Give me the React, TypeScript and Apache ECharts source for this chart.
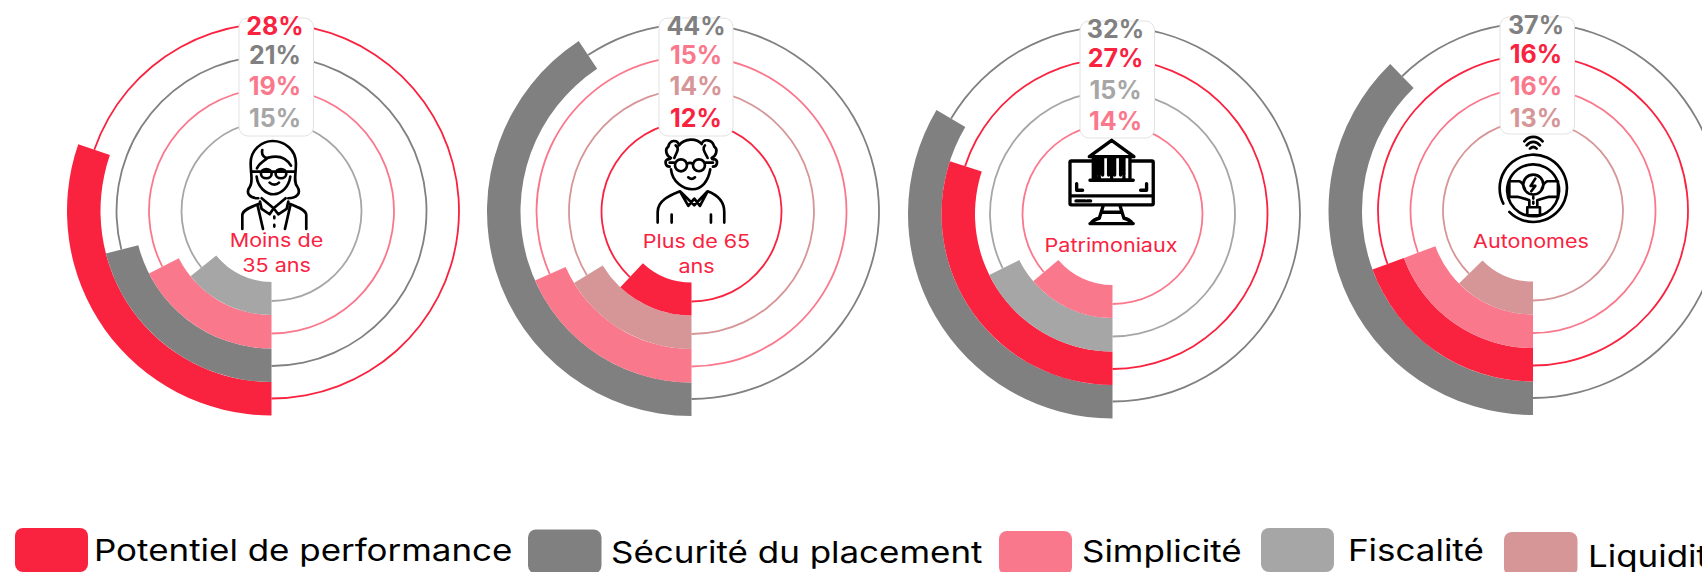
import React, { useEffect, useRef } from "react";
import * as echarts from "echarts";

// ---- data -------------------------------------------------------------
const metricNames = ["Potentiel de performance", "Sécurité du placement", "Simplicité", "Fiscalité", "Liquidité"];

const panelTitles = [["Moins de", "35 ans"], ["Plus de 65", "ans"], ["Patrimoniaux"], ["Autonomes"]];

// order of the metrics from the outer ring to the inner ring
const moinsMetrics = [0, 1, 2, 3];
const plusMetrics = [1, 2, 4, 0];
const patriMetrics = [1, 0, 3, 2];
const autoMetrics = [1, 0, 2, 4];

// percentages printed on the chart
const moinsLabels = [28, 21, 19, 15];
const plusLabels = [44, 15, 14, 12];
const patriLabels = [32, 27, 15, 14];
const autoLabels = [37, 16, 16, 13];

// share of the circle each arc visibly sweeps in the picture
const moinsArcs = [30.3, 21, 17.5, 14.2];
const plusArcs = [40.7, 18.4, 16.3, 12];
const patriArcs = [33.5, 30, 17.7, 13.8];
const autoArcs = [37.7, 19.4, 19.4, 12.6];

// ---- styles and layout ------------------------------------------------
const COLORS = ["#F9223F", "#808080", "#FA788C", "#A6A6A6", "#D69698"];
const FONT = "Inter";
const WIDEN = 1.165;
const RING_EDGES = [204.5, 171, 137.5, 104, 71];
const RING_LINES = [187.5, 155, 122.5, 90];

const panels = [
  { cx: 271.5, cy: 211, metrics: moinsMetrics, labels: moinsLabels, arcs: moinsArcs, box: [239, 18, 74.5, 118], textX: 275, textY: [26, 54.5, 86, 118], titleX: 276.5, titleY: [241, 266] },
  { cx: 691.5, cy: 211.5, metrics: plusMetrics, labels: plusLabels, arcs: plusArcs, box: [659, 18, 74, 118], textX: 696, textY: [26, 54.5, 86, 118], titleX: 696.5, titleY: [241.5, 266.5] },
  { cx: 1112.5, cy: 214, metrics: patriMetrics, labels: patriLabels, arcs: patriArcs, box: [1080, 21, 74.5, 117], textX: 1115.5, textY: [28.5, 57.5, 89.5, 120.5], titleX: 1111, titleY: [245.5] },
  { cx: 1533, cy: 210.5, metrics: autoMetrics, labels: autoLabels, arcs: autoArcs, box: [1500, 17, 74.5, 117], textX: 1536, textY: [24.5, 53.5, 85.5, 117.5], titleX: 1531, titleY: [241.5] },
];

const legendLayout = [
  { box: [15, 528, 73, 44], textX: 94, textY: 550 },
  { box: [528, 529.5, 73.5, 44], textX: 611, textY: 552 },
  { box: [999, 531, 73, 44], textX: 1082, textY: 551 },
  { box: [1261, 528, 73, 44], textX: 1348, textY: 550 },
  { box: [1504, 532, 73.5, 44], textX: 1588, textY: 556 },
];

// icons, drawn in a 3x local space
const womanIcon =
  "M70 190C45 190 30 175 45 155C55 140 47 120 47 85C47 45 80 18 113 18C150 18 183 45 183 85C183 120 175 140 187 155C200 175 185 190 160 190" +
  "M82 45C78 60 90 72 100 68C122 62 150 62 168 92M66 100C72 85 85 78 100 68" +
  "M65 125C68 155 92 178 116 178C140 178 162 155 166 125" +
  "M52 110H182M78 116A16 14 0 1 0 110 116A16 14 0 1 0 78 116M122 116A16 14 0 1 0 154 116A16 14 0 1 0 122 116" +
  "M104 143C112 151 124 151 132 143" +
  "M80 190L116 220L152 190M75 200L80 222L104 238L116 220L130 238L155 222L160 200" +
  "M22 282V240C22 225 50 215 76 205M214 282V240C214 225 186 215 160 205M68 212L84 282M166 212L150 282" +
  "M118 245V250M118 270V275";

const manIcon =
  "M72 40C68 22 44 22 40 44C28 52 34 72 48 78C45 84 40 82 38 82C28 86 30 104 44 104" +
  "M140 36C145 20 172 20 178 44C190 52 184 72 170 78C172 84 176 82 180 82C190 86 188 104 174 104" +
  "M72 40C90 18 125 18 140 36M62 40C75 50 65 60 58 78M150 40C140 50 150 62 158 78" +
  "M60 100A18 18 0 1 0 96 100A18 18 0 1 0 60 100M114 100A18 18 0 1 0 150 100A18 18 0 1 0 114 100M96 96C102 92 108 92 114 96M44 92H60M150 92H174" +
  "M48 112C52 150 85 172 112 172C140 172 160 148 166 112M100 136C106 142 114 142 120 136" +
  "M8 272V240C8 205 45 190 75 178L118 220L158 178C190 190 208 208 208 240V272M75 178L100 222L118 200L135 222L158 178" +
  "M50 248V272M168 248V272";

const bankIcon =
  "M34 78H276A4 4 0 0 1 280 82V206A4 4 0 0 1 276 210H34A4 4 0 0 1 30 206V82A4 4 0 0 1 34 78Z" +
  "M30 183H280M48 198H62M66 198H76M82 198H92M50 146V166H68M260 146V166H242" +
  "M130 212L118 250M180 212L192 250M126 232H184M118 250C108 252 98 258 92 266M192 250C202 252 212 258 218 266M90 266H220";

const bankTop =
  "M88 65L155 16L222 65ZM100 65V135H210V65ZM90 136H220M118 68V120M118 125V134M128 68V120M155 68V120M155 125V134M146 68V120M164 68V120M182 68V120M192 68V120M192 125V134M108 68V134";

const wheelIcon =
  "M58 240A101 101 0 1 0 40 215M130 97A78 78 0 1 1 129 97Z" +
  "M160 158A30 30 0 1 1 100 158A30 30 0 1 1 160 158Z" +
  "M136 140L122 162H136L124 178" +
  "M58 148H88C96 150 100 158 105 172M58 195H85C96 198 105 200 118 205V225M204 148H172C164 150 160 158 155 172M204 195H175C164 198 155 200 142 205V225M58 148V195M204 148V195" +
  "M112 226H150V250H112ZM130 195V200M130 210V215" +
  "M103 28C118 10 142 10 158 28M110 40C122 26 138 26 150 40M120 50C126 44 134 44 140 50";

function Chart() {
  const ref = useRef<HTMLDivElement>(null);
  useEffect(() => {
    document.body.style.margin = "0";
    document.body.style.overflow = "hidden";
    echarts.graphic.registerShape("iconWoman", echarts.graphic.extendPath(womanIcon, {}));
    echarts.graphic.registerShape("iconMan", echarts.graphic.extendPath(manIcon, {}));
    echarts.graphic.registerShape("iconBank", echarts.graphic.extendPath(bankIcon, {}));
    echarts.graphic.registerShape("iconBankTop", echarts.graphic.extendPath(bankTop, {}));
    echarts.graphic.registerShape("iconWheel", echarts.graphic.extendPath(wheelIcon, {}));

    const chart = echarts.init(ref.current!, undefined, { renderer: "svg" });

    const series: any[] = [];
    const graphics: any[] = [];

    panels.forEach((p, pi) => {
      p.metrics.forEach((m, i) => {
        const rest = 100 - p.arcs[i];
        // thin circle: invisible along the arc, coloured for the rest
        series.push({
          type: "pie",
          silent: true,
          z: 1,
          center: [p.cx, p.cy],
          radius: [RING_LINES[i] - 0.9, RING_LINES[i] + 0.9],
          startAngle: 270,
          clockwise: true,
          label: { show: false },
          labelLine: { show: false },
          data: [
            { name: metricNames[m], value: p.arcs[i], itemStyle: { color: "rgba(0,0,0,0)" } },
            { name: "reste", value: rest, itemStyle: { color: COLORS[m] } },
          ],
        });
        // thick arc
        series.push({
          type: "pie",
          silent: true,
          z: 2 + i,
          center: [p.cx, p.cy],
          radius: [RING_EDGES[i + 1], RING_EDGES[i]],
          startAngle: 270,
          clockwise: true,
          label: { show: false },
          labelLine: { show: false },
          data: [
            { name: metricNames[m], value: p.arcs[i], itemStyle: { color: COLORS[m] } },
            { name: "reste", value: rest, itemStyle: { color: "rgba(0,0,0,0)" } },
          ],
        });
      });

      const [bx, by, bw, bh] = p.box;
      graphics.push({
        type: "rect",
        z: 20,
        shape: { x: bx, y: by, width: bw, height: bh, r: 9 },
        style: { fill: "#fff", stroke: "#e2e2e2", lineWidth: 1 },
      });
      p.labels.forEach((v, i) => {
        graphics.push({
          type: "text",
          z: 21,
          x: p.textX,
          y: p.textY[i],
          style: {
            text: v + "%",
            fill: COLORS[p.metrics[i]],
            font: `700 25px ${FONT}`,
            align: "center",
            verticalAlign: "middle",
          },
        });
      });
      panelTitles[pi].forEach((t, i) => {
        graphics.push({
          type: "text",
          z: 21,
          x: p.titleX,
          y: p.titleY[i],
          scaleX: WIDEN,
          style: {
            text: t,
            fill: COLORS[0],
            font: `400 18.5px ${FONT}`,
            align: "center",
            verticalAlign: "middle",
          },
        });
      });
    });

    const icon = (type: string, x: number, y: number, width: number, fill = "none") => ({
      type,
      z: 22,
      x,
      y,
      scaleX: 1 / 3,
      scaleY: 1 / 3,
      style: { fill, stroke: "#000", lineWidth: width, lineCap: "round", lineJoin: "round" },
    });
    graphics.push(icon("iconWoman", 235, 135, 8));
    graphics.push(icon("iconMan", 655, 132, 8));
    graphics.push(icon("iconBank", 1060, 135, 10));
    graphics.push(icon("iconBankTop", 1060, 135, 10, "#fff"));
    graphics.push(icon("iconWheel", 1490, 132, 8));

    metricNames.forEach((name, i) => {
      const l = legendLayout[i];
      graphics.push({
        type: "rect",
        z: 20,
        shape: { x: l.box[0], y: l.box[1], width: l.box[2], height: l.box[3], r: 8 },
        style: { fill: COLORS[i] },
      });
      graphics.push({
        type: "text",
        z: 21,
        x: l.textX,
        y: l.textY,
        scaleX: WIDEN,
        style: {
          text: name,
          fill: "#000",
          font: `400 30px ${FONT}`,
          align: "left",
          verticalAlign: "middle",
        },
      });
    });

    chart.setOption({
      animation: false,
      backgroundColor: "#fff",
      series,
      graphic: { elements: graphics },
    });
    return () => chart.dispose();
  }, []);
  return <div ref={ref} style={{ position: "fixed", left: 0, top: 0, width: 1702, height: 572 }} />;
}

export default function App() {
  return <Chart />;
}
